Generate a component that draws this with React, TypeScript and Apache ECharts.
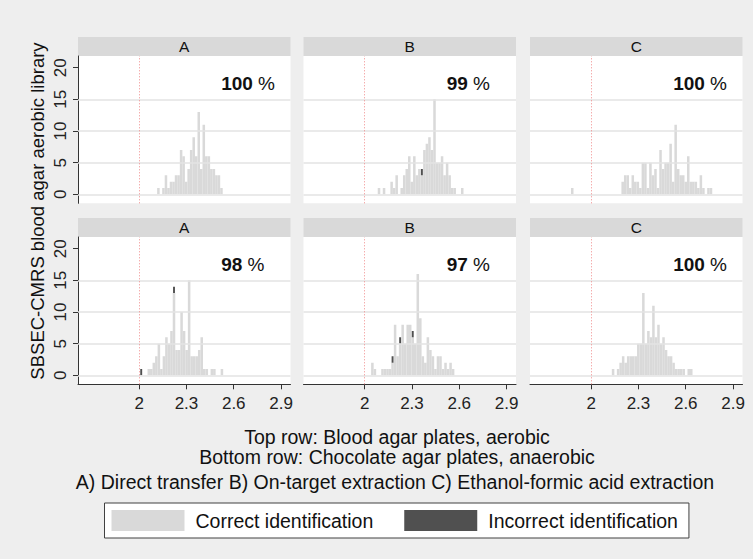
import React, { useEffect, useRef } from "react";
import * as echarts from "echarts";

// ---------- data ----------
const BIN_WIDTH = 0.016;
const THRESHOLD = 2;
const PANEL_LETTERS = ["A", "B", "C"];
const Y_TICKS = [0, 5, 10, 15, 20];
const X_TICKS = [2, 2.3, 2.6, 2.9];
const GRID_VALUES = [0, 5, 10, 15];
const PERCENTS = ["100", "99", "100", "98", "97", "100"];
const PERCENT_POS = [2.52, 17.5];
const X_TITLE_1 = "Top row: Blood agar plates, aerobic";
const X_TITLE_2 = "Bottom row: Chocolate agar plates, anaerobic";
const SUBTITLE = "A) Direct transfer B) On-target extraction C) Ethanol-formic acid extraction";
const Y_TITLE = "SBSEC-CMRS blood agar aerobic library";
const LEGEND_CORRECT = "Correct identification";
const LEGEND_INCORRECT = "Incorrect identification";

// Top row (blood agar, aerobic)
const topA_start = 2.114;
const topA_counts = [1, 0, 1, 3, 1, 2, 2, 3, 3, 7, 6, 2, 4, 7, 9, 6, 13, 4, 11, 6, 6, 4, 4, 3, 3, 1];
const topA_incorrect: number[] = [];

const topB_start = 2.083;
const topB_counts = [1, 0, 1, 0, 0, 2, 1, 3, 0, 1, 3, 4, 6, 2, 6, 3, 4, 3, 7, 8, 9, 7, 15, 5, 5, 6, 3, 5, 3, 1, 1, 0, 0, 1];
const topB_incorrect = [17];

const topC_start = 1.872;
const topC_counts = [
  1, 0, 0, 0, 0, 0, 0, 0, 0, 0, 0, 0, 0, 0, 0, 0, 0, 0, 0, 0,
  2, 3, 3, 1, 3, 2, 2, 1, 5, 5, 1, 5, 3, 4, 1, 7, 4, 5, 5, 8, 2, 11, 4, 3, 3, 2, 6, 2, 2, 2, 1, 3, 1, 0, 1, 1,
];
const topC_incorrect: number[] = [];

// Bottom row (chocolate agar, anaerobic)
const botA_start = 2.053;
const botA_counts = [1, 1, 2, 3, 5, 1, 3, 6, 5, 7, 13, 4, 4, 10, 7, 4, 15, 3, 3, 3, 4, 6, 1, 1, 0, 1, 1, 0, 0, 1];
const botA_incorrect = [-3, 10];

const botB_start = 2.041;
const botB_counts = [2, 1, 0, 0, 1, 1, 1, 1, 2, 8, 3, 5, 8, 5, 8, 8, 6, 5, 16, 9, 3, 2, 6, 4, 3, 1, 3, 3, 1, 2, 1, 2, 1];
const botB_incorrect = [8, 11, 16];

const botC_start = 2.131;
const botC_counts = [1, 0, 1, 2, 3, 2, 3, 3, 3, 3, 5, 5, 13, 5, 7, 6, 11, 6, 8, 5, 6, 4, 3, 3, 2, 1, 1, 1, 1, 0, 1, 1];
const botC_incorrect: number[] = [];

const PANELS = [
  { start: topA_start, counts: topA_counts, incorrect: topA_incorrect },
  { start: topB_start, counts: topB_counts, incorrect: topB_incorrect },
  { start: topC_start, counts: topC_counts, incorrect: topC_incorrect },
  { start: botA_start, counts: botA_counts, incorrect: botA_incorrect },
  { start: botB_start, counts: botB_counts, incorrect: botB_incorrect },
  { start: botC_start, counts: botC_counts, incorrect: botC_incorrect },
];

// ---------- layout / style ----------
const FONT = "'Liberation Sans', Arial, Helvetica, sans-serif";
const BG = "#eeeeee";
const STRIP = "#d9d9d9";
const LIGHT = "#d9d9d9";
const DARK = "#505050";
const AXIS = "#333333";
const GRID_LEFT = [78, 303.5, 530];
const GRID_W = 212.5;
const GRID_TOP = [56, 237];
const GRID_H = 147.3;
const STRIP_H = 19;
const X_MIN = 1.612;
const X_MAX = 2.96;
const Y_MIN = -1.42;
const Y_MAX = 21.85;
const TITLE_SIZE = 19.5;

function buildOption() {
  const grid: any[] = [];
  const xAxis: any[] = [];
  const yAxis: any[] = [];
  const series: any[] = [];
  const graphic: any[] = [];

  PANELS.forEach((p, i) => {
    const row = Math.floor(i / 3);
    const col = i % 3;
    grid.push({ left: GRID_LEFT[col], top: GRID_TOP[row], width: GRID_W, height: GRID_H, backgroundColor: "#ffffff", show: true, borderWidth: 0 });
    const bottomRow = row === 1;
    xAxis.push({
      type: "value", gridIndex: i, min: X_MIN, max: X_MAX,
      show: bottomRow,
      axisLine: { show: bottomRow, onZero: false, lineStyle: { color: AXIS, width: 1 } },
      axisTick: { show: bottomRow, length: 5, customValues: X_TICKS, lineStyle: { color: AXIS } },
      axisLabel: { show: bottomRow, customValues: X_TICKS, formatter: (v: number) => String(v), margin: 11, fontSize: 17, color: "#222", fontFamily: FONT },
      splitLine: { show: false },
    });
    const leftCol = col === 0;
    yAxis.push({
      type: "value", gridIndex: i, min: Y_MIN, max: Y_MAX,
      show: leftCol,
      axisLine: { show: leftCol, onZero: false, lineStyle: { color: AXIS, width: 1 } },
      axisTick: { show: leftCol, length: 5, customValues: Y_TICKS, lineStyle: { color: AXIS } },
      axisLabel: { show: leftCol, customValues: Y_TICKS, rotate: 90, margin: 9, fontSize: 17, color: "#222", fontFamily: FONT },
      splitLine: { show: false },
    });

    // gridlines and threshold line
    series.push({
      type: "line", name: "guides" + i, xAxisIndex: i, yAxisIndex: i, data: [], silent: true, z: 1,
      markLine: {
        silent: true, symbol: ["none", "none"], label: { show: false }, animation: false,
        data: [
          ...GRID_VALUES.map((v) => ({ yAxis: v, lineStyle: { color: "#e3e3e3", width: 1.5, type: "solid" } })),
          { xAxis: THRESHOLD, lineStyle: { color: "#f08a8a", width: 1, type: [1, 2] } },
        ],
      },
    });

    const correctData = p.counts.map((c, k) => [p.start + k * BIN_WIDTH, p.start + (k + 1) * BIN_WIDTH, 0, c]).filter((d) => d[3] > 0);
    series.push({
      type: "custom", name: LEGEND_CORRECT, xAxisIndex: i, yAxisIndex: i, z: 2, clip: true,
      itemStyle: { color: LIGHT },
      encode: { x: [0, 1], y: [2, 3] },
      data: correctData,
      renderItem: (params: any, api: any) => {
        const a = api.coord([api.value(0), api.value(3)]);
        const b = api.coord([api.value(1), api.value(2)]);
        return { type: "rect", shape: { x: a[0], y: a[1], width: b[0] - a[0], height: b[1] - a[1] }, style: { fill: LIGHT } };
      },
    });

    const incorrectData = p.incorrect.map((k) => {
      const base = k >= 0 && k < p.counts.length ? p.counts[k] : 0;
      return [p.start + k * BIN_WIDTH, p.start + (k + 1) * BIN_WIDTH, base, base + 1];
    });
    series.push({
      type: "custom", name: LEGEND_INCORRECT, xAxisIndex: i, yAxisIndex: i, z: 3, clip: true,
      itemStyle: { color: DARK },
      encode: { x: [0, 1], y: [2, 3] },
      data: incorrectData,
      renderItem: (params: any, api: any) => {
        const a = api.coord([api.value(0), api.value(3)]);
        const b = api.coord([api.value(1), api.value(2)]);
        const w = b[0] - a[0];
        return { type: "rect", shape: { x: a[0] + w * 0.12, y: a[1], width: w * 0.76, height: b[1] - a[1] }, style: { fill: DARK } };
      },
    });

    series.push({
      type: "custom", name: "pct" + i, xAxisIndex: i, yAxisIndex: i, z: 4, silent: true,
      data: [PERCENT_POS],
      renderItem: (params: any, api: any) => {
        const pt = api.coord([api.value(0), api.value(1)]);
        return {
          type: "text", x: pt[0], y: pt[1],
          style: {
            text: "{b|" + PERCENTS[i] + "}{n| %}",
            align: "left", verticalAlign: "middle",
            rich: {
              b: { fontFamily: FONT, fontSize: 19, fontWeight: "bold", fill: "#111" },
              n: { fontFamily: FONT, fontSize: 19, fontWeight: "normal", fill: "#111" },
            },
          },
        };
      },
    });

    graphic.push({
      type: "rect", left: GRID_LEFT[col], top: GRID_TOP[row] - STRIP_H,
      shape: { width: GRID_W, height: STRIP_H }, style: { fill: STRIP },
    });
    graphic.push({
      type: "text", x: GRID_LEFT[col] + GRID_W / 2, y: GRID_TOP[row] - STRIP_H / 2,
      style: { text: PANEL_LETTERS[col], fontFamily: FONT, fontSize: 15.5, fill: "#111", align: "center", verticalAlign: "middle" },
    });
  });

  graphic.push({
    type: "text", x: 37, y: 211, rotation: Math.PI / 2,
    style: { text: Y_TITLE, fontFamily: FONT, fontSize: 18.5, fill: "#111", align: "center", verticalAlign: "middle" },
  });
  graphic.push({
    type: "text", x: 397, y: 437,
    style: { text: X_TITLE_1, fontFamily: FONT, fontSize: TITLE_SIZE, fill: "#111", align: "center", verticalAlign: "middle" },
  });
  graphic.push({
    type: "text", x: 397, y: 457,
    style: { text: X_TITLE_2, fontFamily: FONT, fontSize: TITLE_SIZE, fill: "#111", align: "center", verticalAlign: "middle" },
  });
  graphic.push({
    type: "text", x: 395, y: 482,
    style: { text: SUBTITLE, fontFamily: FONT, fontSize: TITLE_SIZE, fill: "#111", align: "center", verticalAlign: "middle" },
  });

  return {
    animation: false,
    backgroundColor: BG,
    textStyle: { fontFamily: FONT },
    grid, xAxis, yAxis, series, graphic,
    legend: {
      left: 104.5, top: 503,
      orient: "horizontal",
      data: [{ name: LEGEND_CORRECT, icon: "rect" }, { name: LEGEND_INCORRECT, icon: "rect" }],
      itemWidth: 73, itemHeight: 21, itemGap: 31,
      padding: [7, 11, 7, 7],
      backgroundColor: "#ffffff", borderColor: "#404040", borderWidth: 1, borderRadius: 0,
      selectedMode: false,
      textStyle: { fontFamily: FONT, fontSize: 19.5, color: "#111", padding: [0, 0, 0, 6] },
    },
  };
}

export default function App() {
  const ref = useRef<HTMLDivElement>(null);
  useEffect(() => {
    document.body.style.margin = "0";
    if (!ref.current) return;
    const chart = echarts.init(ref.current, undefined, { renderer: "svg" });
    chart.setOption(buildOption() as any);
    return () => chart.dispose();
  }, []);
  return <div ref={ref} style={{ width: 753, height: 559 }} />;
}
